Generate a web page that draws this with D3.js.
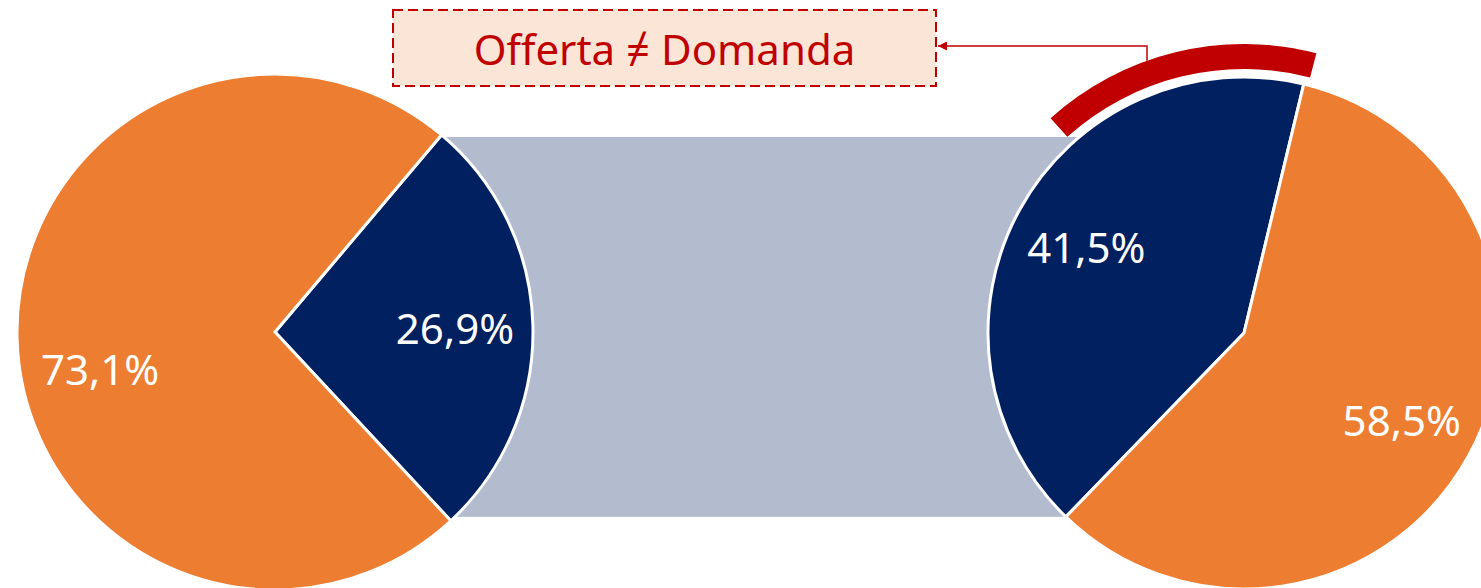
<!DOCTYPE html>
<html>
<head>
<meta charset="utf-8">
<script src="https://cdn.jsdelivr.net/npm/d3@7"></script>
<style>
  body { margin: 0; background: #fff; }
  svg { display: block; }
</style>
</head>
<body>
<script>
// data
const categories = ['Blu', 'Arancione']
const leftValues = [26.9, 73.1]
const rightValues = [41.5, 58.5]
const leftLabels = ['26,9%', '73,1%']
const rightLabels = ['41,5%', '58,5%']
const calloutText = 'Offerta \u2260 Domanda'

const width = 1481
const height = 588
const rad = Math.PI / 180

const colors = d3.scaleOrdinal().domain(categories).range(['#002060', '#ed7d31'])

const svg = d3.select('body').append('svg')
  .attr('width', width)
  .attr('height', height)

// geometry of the two pies (start = angle where the blue slice begins)
const left = { cx: 275, cy: 332, r: 258, start: 40.2 }
const right = { cx: 1244, cy: 333, r: 256, start: -135.9 }

const makePie = p => d3.pie().sort(null).value(d => d)
  .startAngle(p.start * rad).endAngle((p.start + 360) * rad)

const arcsL = makePie(left)(leftValues)
const arcsR = makePie(right)(rightValues)

// grey band linking the two blue slices
const vTop = [left.cx + left.r * Math.sin(arcsL[0].startAngle), left.cy - left.r * Math.cos(arcsL[0].startAngle)]
const vBot = [right.cx + right.r * Math.sin(arcsR[0].startAngle), right.cy - right.r * Math.cos(arcsR[0].startAngle)]
svg.append('rect')
  .attr('x', vTop[0])
  .attr('y', vTop[1] + 2)
  .attr('width', right.cx - vTop[0])
  .attr('height', vBot[1] - vTop[1] - 2)
  .attr('fill', '#b3bbce')

function drawPie(p, arcs, labels, nudge) {
  const g = svg.append('g').attr('transform', 'translate(' + p.cx + ',' + p.cy + ')')
  const arc = d3.arc().innerRadius(0).outerRadius(p.r)
  const labelArc = d3.arc().innerRadius(180).outerRadius(180)
  g.selectAll('path')
    .data(arcs)
    .enter()
    .append('path')
    .attr('d', arc)
    .attr('fill', (d, i) => colors(categories[i]))
    .attr('stroke', '#fff')
    .attr('stroke-width', 3)
  g.selectAll('text')
    .data(arcs)
    .enter()
    .append('text')
    .attr('x', (d, i) => labelArc.centroid(d)[0] + nudge[i][0])
    .attr('y', (d, i) => labelArc.centroid(d)[1] + nudge[i][1])
    .attr('text-anchor', 'middle')
    .attr('dominant-baseline', 'central')
    .attr('fill', '#fff')
    .attr('font-family', 'Noto Sans, sans-serif')
    .attr('font-size', '42px')
    .text((d, i) => labels[i])
}

drawPie(left, arcsL, leftLabels, [[0, 0], [5, 32]])
drawPie(right, arcsR, rightLabels, [[0, 0], [0, 0]])

// red highlight arc over the right blue slice
const hiStart = -42
const hiEnd = 14.5
svg.append('path')
  .attr('transform', 'translate(' + right.cx + ',' + right.cy + ')')
  .attr('d', d3.arc().innerRadius(264).outerRadius(289).startAngle(hiStart * rad).endAngle(hiEnd * rad)())
  .attr('fill', '#c00000')

// callout box
const box = { x: 393, y: 10, w: 543, h: 76 }
svg.append('rect')
  .attr('x', box.x)
  .attr('y', box.y)
  .attr('width', box.w)
  .attr('height', box.h)
  .attr('fill', '#fbe5d6')
  .attr('stroke', '#c00000')
  .attr('stroke-width', 2)
  .attr('stroke-dasharray', '10,5')

svg.append('text')
  .attr('x', box.x + box.w / 2)
  .attr('y', box.y + box.h / 2)
  .attr('text-anchor', 'middle')
  .attr('dominant-baseline', 'central')
  .attr('fill', '#c00000')
  .attr('font-family', 'Noto Sans, sans-serif')
  .attr('font-size', '42px')
  .text(calloutText)

// connector arrow
svg.append('defs').append('marker')
  .attr('id', 'head')
  .attr('viewBox', '0 0 10 10')
  .attr('refX', 10).attr('refY', 5)
  .attr('markerWidth', 9).attr('markerHeight', 9)
  .attr('markerUnits', 'userSpaceOnUse')
  .attr('orient', 'auto')
  .append('path')
  .attr('d', 'M0,0L10,5L0,10z')
  .attr('fill', '#c00000')

const ax = 1147
const ay = right.cy - Math.sqrt(289 * 289 - (right.cx - ax) * (right.cx - ax))
svg.append('path')
  .attr('d', d3.line()([[ax, ay], [ax, 46], [box.x + box.w + 2, 46]]))
  .attr('fill', 'none')
  .attr('stroke', '#c00000')
  .attr('stroke-width', 1.5)
  .attr('marker-end', 'url(#head)')
</script>
</body>
</html>
